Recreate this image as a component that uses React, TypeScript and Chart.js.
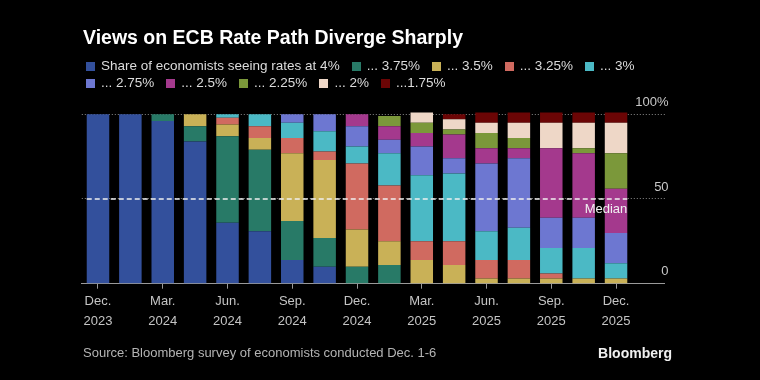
import React, { useEffect, useRef } from 'react';
import { Chart, registerables } from 'chart.js';

Chart.register(...registerables);

// ---- Data ----
const categories = [
  'Dec. 2023', 'Jan. 2024', 'Mar. 2024', 'Apr. 2024', 'Jun. 2024', 'Jul. 2024',
  'Sep. 2024', 'Oct. 2024', 'Dec. 2024', 'Jan. 2025', 'Mar. 2025', 'Apr. 2025',
  'Jun. 2025', 'Jul. 2025', 'Sep. 2025', 'Oct. 2025', 'Dec. 2025',
];

const rate400 = [100, 100, 96, 84, 36, 31, 14, 10, 0, 0, 0, 0, 0, 0, 0, 0, 0];
const rate375 = [0, 0, 4, 9, 51, 48, 23, 17, 10, 11, 0, 0, 0, 0, 0, 0, 0];
const rate350 = [0, 0, 0, 7, 7, 7, 40, 46, 22, 14, 14, 11, 3, 3, 3, 3, 3];
const rate325 = [0, 0, 0, 0, 4, 7, 9, 5, 39, 33, 11, 14, 11, 11, 3, 0, 0];
const rate300 = [0, 0, 0, 0, 2, 7, 9, 12, 10, 19, 39, 40, 17, 19, 15, 18, 9];
const rate275 = [0, 0, 0, 0, 0, 0, 5, 10, 12, 8, 17, 9, 40, 41, 18, 18, 18];
const rate250 = [0, 0, 0, 0, 0, 0, 0, 0, 7, 8, 8, 14, 9, 6, 41, 38, 26];
const rate225 = [0, 0, 0, 0, 0, 0, 0, 0, 0, 6, 6, 3, 9, 6, 0, 3, 21];
const rate200 = [0, 0, 0, 0, 0, 0, 0, 0, 0, 0, 6, 6, 6, 9, 15, 15, 18];
const rate175 = [0, 0, 0, 0, 0, 0, 0, 0, 0, 0, 0, 3, 6, 6, 6, 6, 6];

const seriesNames = [
  'Share of economists seeing rates at 4%', '... 3.75%', '... 3.5%', '... 3.25%', '... 3%',
  '... 2.75%', '... 2.5%', '... 2.25%', '... 2%', '...1.75%',
];
const seriesValues = [rate400, rate375, rate350, rate325, rate300, rate275, rate250, rate225, rate200, rate175];
const seriesColors = [
  '#33509c', '#287a67', '#c9b157', '#d06a60', '#4bb9c5',
  '#6d77d1', '#a4398d', '#7b983a', '#eed7c7', '#6b0505',
];

const yTickValues = [0, 50, 100];
const yTickLabels = ['0', '50', '100%'];
const medianValue = 50;
const medianLabel = 'Median';

const title = 'Views on ECB Rate Path Diverge Sharply';
const source = 'Source: Bloomberg survey of economists conducted Dec. 1-6';
const brand = 'Bloomberg';

const FONT = "'Liberation Sans', Arial, sans-serif";

const medianPlugin = {
  id: 'medianLine',
  afterDatasetsDraw(chart: any) {
    const { ctx, scales } = chart;
    const meta = chart.getDatasetMeta(0);
    const first = meta.data[0].getProps(['x', 'width'], true);
    const last = meta.data[categories.length - 1].getProps(['x', 'width'], true);
    const x1 = first.x - first.width / 2;
    const x2 = last.x + last.width / 2;
    const y = scales.y.getPixelForValue(medianValue);
    ctx.save();
    ctx.strokeStyle = '#f0f0f0';
    ctx.lineWidth = 1.5;
    ctx.setLineDash([5, 3]);
    ctx.beginPath();
    ctx.moveTo(x1, y);
    ctx.lineTo(x2, y);
    ctx.stroke();
    ctx.setLineDash([]);
    ctx.font = `13px ${FONT}`;
    ctx.fillStyle = '#f0f0f0';
    ctx.textAlign = 'right';
    ctx.textBaseline = 'middle';
    ctx.fillText(medianLabel, x2, y + 10);
    ctx.restore();
  },
};

export default function App() {
  const canvasRef = useRef<HTMLCanvasElement | null>(null);

  useEffect(() => {
    document.body.style.margin = '0';
    document.body.style.background = '#000';
    const canvas = canvasRef.current;
    if (!canvas) return;
    const labels = [...categories, ''];
    const chart = new Chart(canvas, {
      type: 'bar',
      data: {
        labels,
        datasets: seriesValues.map((vals, i) => ({
          label: seriesNames[i],
          data: vals,
          backgroundColor: seriesColors[i],
          borderWidth: 0,
          categoryPercentage: 1,
          barPercentage: 0.695,
        })),
      },
      options: {
        responsive: false,
        animation: false,
        layout: { padding: { left: 81.8, right: 87.4, top: 110.9, bottom: 46.3 } },
        plugins: {
          legend: { display: false },
          tooltip: { enabled: false },
        },
        scales: {
          x: {
            stacked: true,
            offset: true,
            grid: {
              offset: false,
              drawOnChartArea: false,
              drawTicks: true,
              tickLength: 5,
              tickColor: (c: any) => (c.index % 2 === 0 && c.index < categories.length ? '#9a9a9a' : 'rgba(0,0,0,0)'),
            },
            border: { display: true, color: '#9a9a9a', width: 1 },
            ticks: {
              autoSkip: false,
              maxRotation: 0,
              minRotation: 0,
              padding: 3,
              color: '#c4c4c4',
              font: { family: FONT, size: 13, lineHeight: 1.5 },
              callback: (_v: any, i: number) =>
                i % 2 === 0 && i < categories.length ? categories[i].split(' ') : '',
            },
          },
          y: {
            stacked: true,
            position: 'right',
            min: 0,
            max: 102,
            afterBuildTicks: (axis: any) => {
              axis.ticks = yTickValues.map((v) => ({ value: v }));
            },
            grid: {
              drawTicks: false,
              color: (c: any) => (c.tick && c.tick.value === 0 ? 'rgba(0,0,0,0)' : '#8a8a8a'),
              lineWidth: 1,
            },
            border: { display: false, dash: [1, 2] },
            ticks: {
              mirror: true,
              padding: 4,
              labelOffset: -12,
              color: '#c8c8c8',
              font: { family: FONT, size: 13 },
              callback: (v: any) => yTickLabels[yTickValues.indexOf(Number(v))] ?? '',
            },
          },
        },
      },
      plugins: [medianPlugin],
    });
    return () => chart.destroy();
  }, []);

  return (
    <div style={{ position: 'absolute', left: 0, top: 0, width: 760, height: 380, background: '#000', overflow: 'hidden', fontFamily: FONT }}>
      <canvas ref={canvasRef} width={760} height={380} style={{ position: 'absolute', left: 0, top: 0 }} />
      <div style={{ position: 'absolute', left: 83, top: 25, color: '#fff', fontWeight: 700, fontSize: 19.5, lineHeight: '24px', whiteSpace: 'nowrap' }}>
        {title}
      </div>
      <div style={{ position: 'absolute', left: 86, top: 58, width: 580, display: 'flex', flexWrap: 'wrap', columnGap: 12, rowGap: 1, color: '#dcdcdc', fontSize: 13.5, lineHeight: '16px' }}>
        {seriesNames.map((n, i) => (
          <div key={n} style={{ display: 'flex', alignItems: 'center', whiteSpace: 'nowrap' }}>
            <span style={{ display: 'inline-block', width: 9, height: 9, background: seriesColors[i], marginRight: 6 }} />
            <span>{n}</span>
          </div>
        ))}
      </div>
      <div style={{ position: 'absolute', left: 83, top: 345, color: '#b4b4b4', fontSize: 13, lineHeight: '16px', whiteSpace: 'nowrap' }}>
        {source}
      </div>
      <div style={{ position: 'absolute', right: 88, top: 344, color: '#f0f0f0', fontWeight: 700, fontSize: 14, lineHeight: '18px' }}>
        {brand}
      </div>
    </div>
  );
}
